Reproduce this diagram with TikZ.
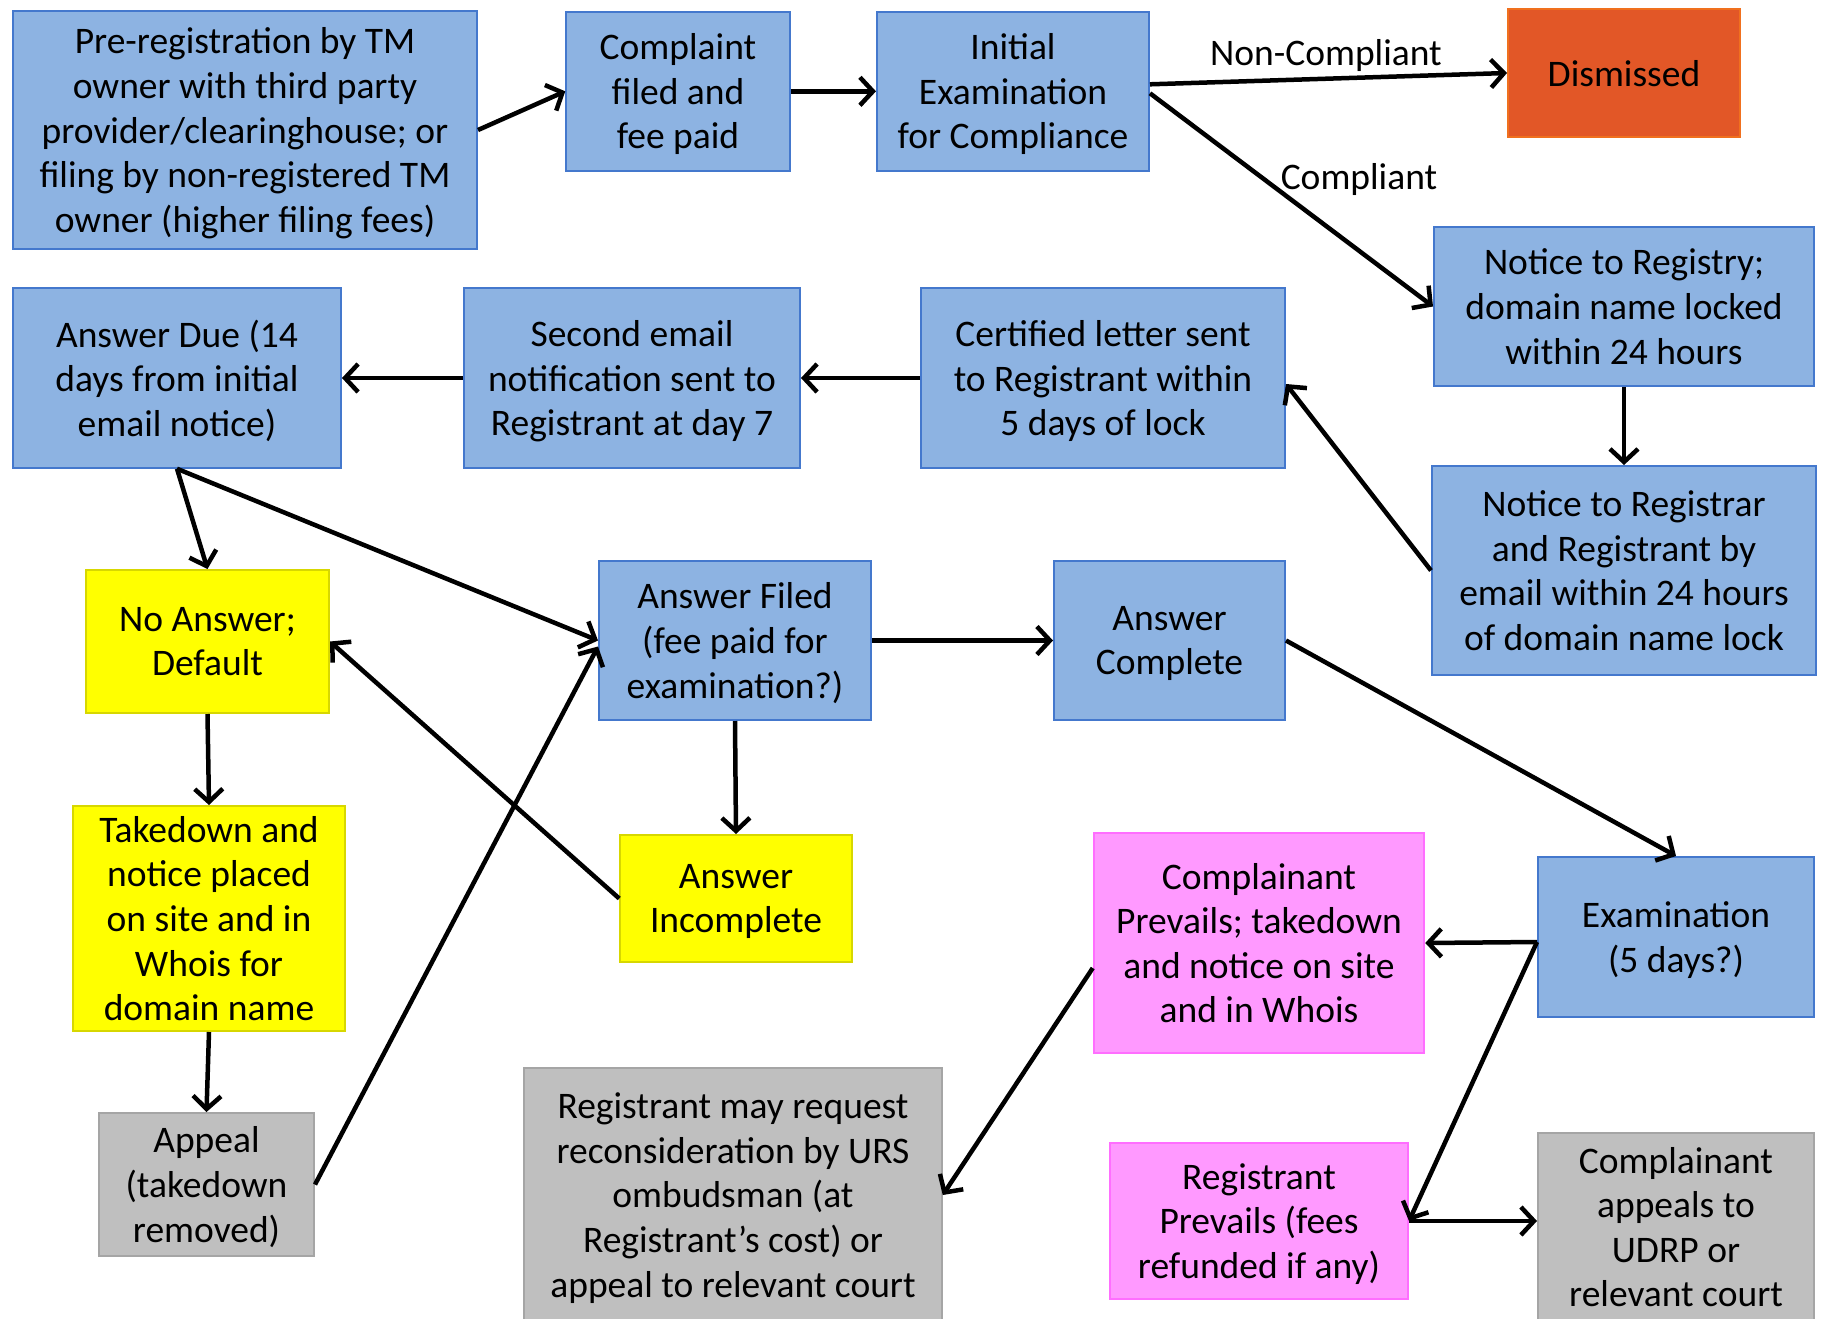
\documentclass[tikz,border=0pt]{standalone}
\usepackage{fontspec}
\setmainfont{Carlito}
\usetikzlibrary{arrows.meta,calc}
\definecolor{bluefill}{RGB}{141,179,226}
\definecolor{blueline}{RGB}{68,120,205}
\definecolor{orfill}{RGB}{226,87,39}
\definecolor{orline}{RGB}{240,112,30}
\definecolor{yelfill}{RGB}{255,255,0}
\definecolor{yelline}{RGB}{215,215,0}
\definecolor{pinkfill}{RGB}{255,153,255}
\definecolor{pinkline}{RGB}{255,110,255}
\definecolor{grayfill}{RGB}{191,191,191}
\definecolor{grayline}{RGB}{165,165,165}
\begin{document}
\begin{tikzpicture}[x=1pt,y=-1pt,
  every node/.style={font=\fontsize{37.5}{44.6}\selectfont, align=center, inner sep=0pt, text depth=0pt},
  box/.style={rectangle, line width=2pt, minimum width=#1},
  bluebox/.style={box=#1, fill=bluefill, draw=blueline},
  orbox/.style={box=#1, fill=orfill, draw=orline},
  yelbox/.style={box=#1, fill=yelfill, draw=yelline},
  pinkbox/.style={box=#1, fill=pinkfill, draw=pinkline},
  graybox/.style={box=#1, fill=grayfill, draw=grayline},
  conn/.style={line width=4.5pt, -{Straight Barb[length=13pt,width=28pt]}},
  lbl/.style={fill=none}
]
\useasboundingbox (0,0) rectangle (1824,1318);
\clip (0,0) rectangle (1824,1318);

\node[bluebox=464pt, minimum height=238.5pt] (pre) at (245,130) {Pre-registration by TM\\owner with third party\\provider/clearinghouse; or\\filing by non-registered TM\\owner (higher filing fees)};
\node[bluebox=223.5pt, minimum height=159.4pt] (comp) at (678,91.3) {Complaint\\filed and\\fee paid};
\node[bluebox=272pt, minimum height=159.4pt] (init) at (1013,91.3) {Initial\\Examination\\for Compliance};
\node[orbox=232pt, minimum height=128pt] (dism) at (1624,73) {Dismissed};
\node[bluebox=380pt, minimum height=159pt] (nreg) at (1624,306.5) {Notice to Registry;\\domain name locked\\within 24 hours};
\node[bluebox=384pt, minimum height=209pt] (nrar) at (1624,570.5) {Notice to Registrar\\and Registrant by\\email within 24 hours\\of domain name lock};
\node[bluebox=364pt, minimum height=179.5pt] (cert) at (1103,378) {Certified letter sent\\to Registrant within\\5 days of lock};
\node[bluebox=336pt, minimum height=179.5pt] (second) at (632,378) {Second email\\notification sent to\\Registrant at day 7};
\node[bluebox=328pt, minimum height=179.5pt] (due) at (177,378) {Answer Due (14\\days from initial\\email notice)};
\node[yelbox=243pt, minimum height=143pt] (noans) at (207.5,641.5) {No Answer;\\Default};
\node[bluebox=272pt, minimum height=159pt] (filed) at (735,640.5) {Answer Filed\\(fee paid for\\examination?)};
\node[bluebox=231pt, minimum height=159pt] (complete) at (1169.5,640.5) {Answer\\Complete};
\node[yelbox=272.5pt, minimum height=225pt] (takedown) at (209,918.5) {Takedown and\\notice placed\\on site and in\\Whois for\\domain name};
\node[yelbox=231.5pt, minimum height=127pt] (incomplete) at (736,898.5) {Answer\\Incomplete};
\node[pinkbox=330.5pt, minimum height=220pt] (cprev) at (1259,943) {Complainant\\Prevails; takedown\\and notice on site\\and in Whois};
\node[bluebox=276pt, minimum height=160pt] (exam) at (1676,937) {Examination\\(5 days?)};
\node[graybox=215pt, minimum height=143pt] (appeal) at (206.5,1184.5) {Appeal\\(takedown\\removed)};
\node[graybox=417.5pt, minimum height=254pt] (rreq) at (733,1195) {Registrant may request\\reconsideration by URS\\ombudsman (at\\Registrant’s cost) or\\appeal to relevant court};
\node[pinkbox=298pt, minimum height=155.5pt] (rprev) at (1259,1221) {Registrant\\Prevails (fees\\refunded if any)};
\node[graybox=276pt, minimum height=188pt] (cappeal) at (1676,1227) {Complainant\\appeals to\\UDRP or\\relevant court};

\node[lbl] (lnc) at (1326,52) {Non-Compliant};
\node[lbl] (lc) at (1359,176) {Compliant};

\draw[conn] (pre.east) -- (comp.west);
\draw[conn] (comp.east) -- (init.west);
\draw[conn] ($(init.east)+(0,-7)$) -- (dism.west);
\draw[conn] ($(init.east)+(0,2)$) -- (nreg.west);
\draw[conn] (nreg.south) -- (nrar.north);
\draw[conn] (nrar.west) -- ($(cert.east)+(0,6)$);
\draw[conn] (cert.west) -- (second.east);
\draw[conn] (second.west) -- (due.east);
\draw[conn] (due.south) -- (noans.north);
\draw[conn] (due.south) -- (filed.west);
\draw[conn] (filed.east) -- (complete.west);
\draw[conn] (filed.south) -- (incomplete.north);
\draw[conn] (incomplete.west) -- (noans.east);
\draw[conn] (noans.south) -- (takedown.north);
\draw[conn] (takedown.south) -- (appeal.north);
\draw[conn] (appeal.east) -- ($(filed.west)+(0,6)$);
\draw[conn] (complete.east) -- (exam.north);
\draw[conn] ($(exam.west)+(0,5)$) -- (cprev.east);
\draw[conn] ($(exam.west)+(0,5)$) -- (rprev.east);
\draw[conn] ($(cprev.west)+(0,25)$) -- (rreq.east);
\draw[conn] (rprev.east) -- (rprev.east -| cappeal.west);
\end{tikzpicture}
\end{document}
